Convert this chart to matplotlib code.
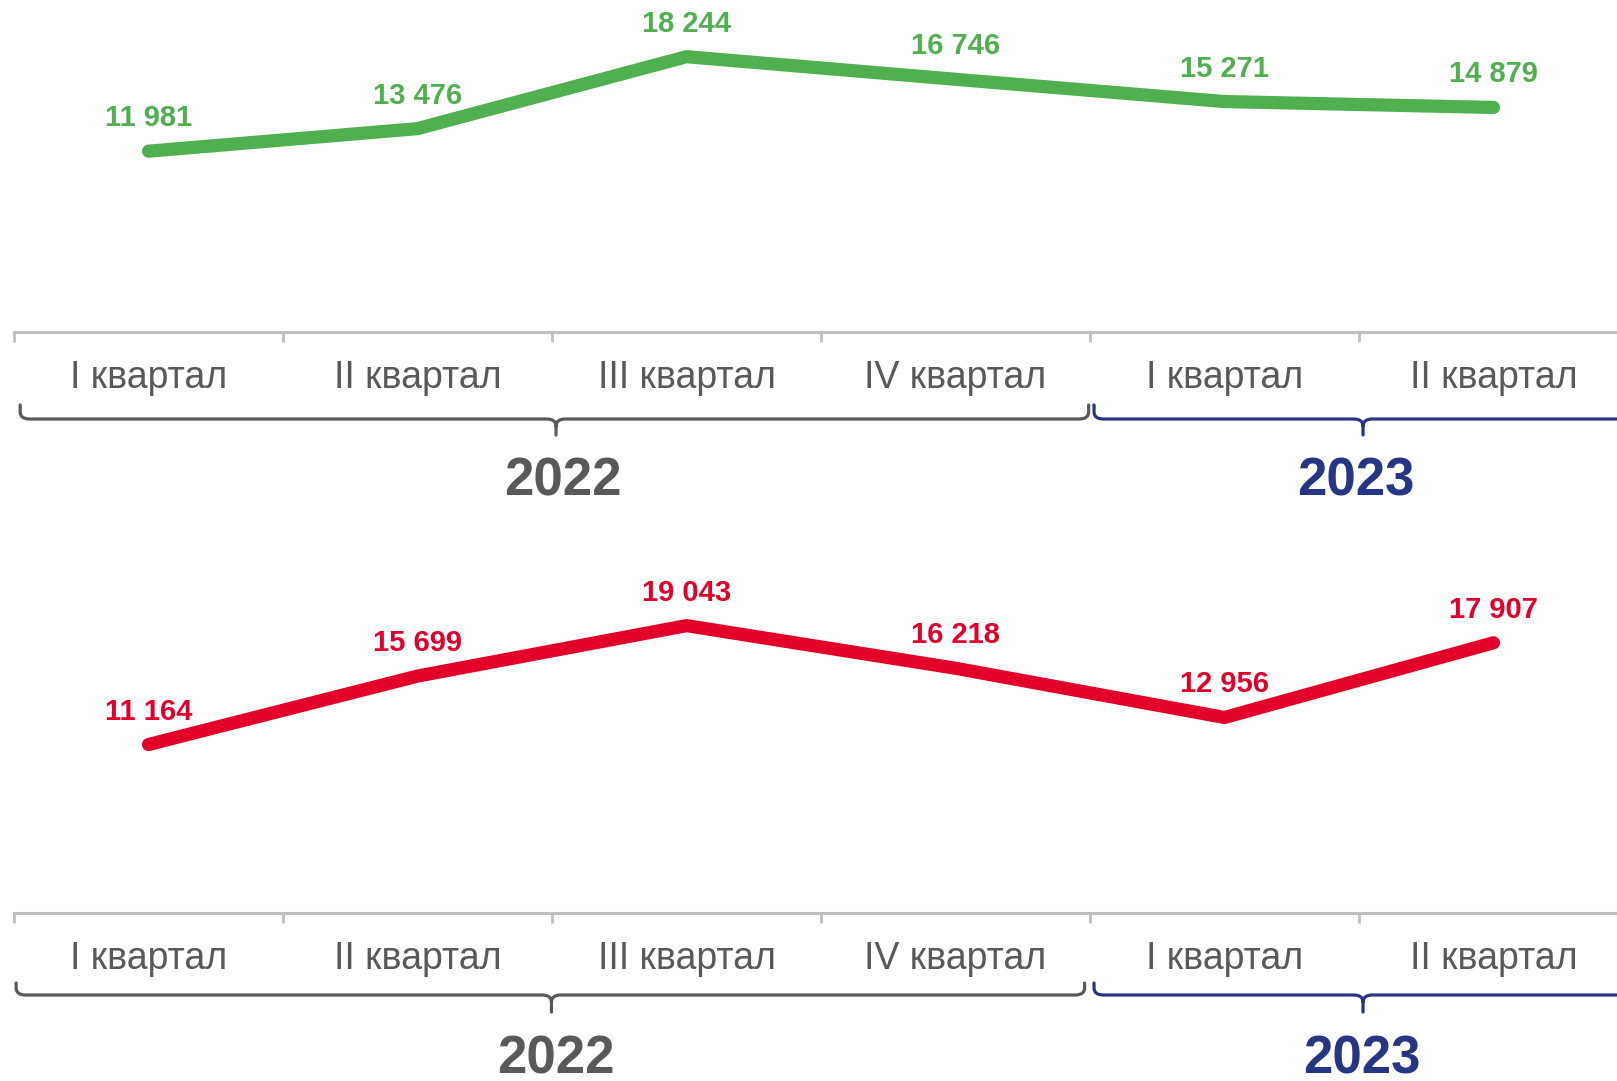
import numpy as np
import matplotlib
matplotlib.use('Agg')
import matplotlib.pyplot as plt
from matplotlib.path import Path
from matplotlib.patches import PathPatch
from matplotlib.transforms import blended_transform_factory

plt.rcParams['font.family'] = ['Liberation Sans', 'DejaVu Sans']

quarters = ['I квартал', 'II квартал', 'III квартал', 'IV квартал', 'I квартал', 'II квартал']
years = ['2022', '2023']
green_values = [11981, 13476, 18244, 16746, 15271, 14879]
red_values = [11164, 15699, 19043, 16218, 12956, 17907]

GREEN = '#50AF4F'
RED = '#E2002B'
GRAY_TEXT = '#595959'
NAVY = '#283583'
AXIS_GRAY = '#BFBFBF'

W, H = 1617, 1081
AX_H = 332  # axes height in pixels

fig = plt.figure(figsize=(W / 100, H / 100), dpi=100)


def px(offset):
    # pixels below the category axis -> axes fraction
    return -offset / AX_H


def brace(ax, x0, x1, xm, color, ytop, yline, ytip, r=0.035):
    trans = blended_transform_factory(ax.transData, ax.transAxes)
    verts = [
        (x0, px(ytop)), (x0, px(yline - 7)), (x0, px(yline)), (x0 + r, px(yline)),
        (xm - r, px(yline)), (xm, px(yline)), (xm, px(yline + 7)), (xm, px(ytip)),
        (x1, px(ytop)), (x1, px(yline - 7)), (x1, px(yline)), (x1 - r, px(yline)),
        (xm + r, px(yline)), (xm, px(yline)), (xm, px(yline + 7)),
    ]
    codes = [
        Path.MOVETO, Path.LINETO, Path.CURVE3, Path.CURVE3,
        Path.LINETO, Path.CURVE3, Path.CURVE3, Path.LINETO,
        Path.MOVETO, Path.LINETO, Path.CURVE3, Path.CURVE3,
        Path.LINETO, Path.CURVE3, Path.CURVE3,
    ]
    patch = PathPatch(Path(verts, codes), fill=False, edgecolor=color, lw=2.3,
                      transform=trans, clip_on=False, capstyle='round', joinstyle='round')
    ax.add_patch(patch)


def year_label(ax, x, y, text, color):
    trans = blended_transform_factory(ax.transData, ax.transAxes)
    ax.text(x, px(y), text, transform=trans, ha='center', va='baseline',
            fontsize=38, fontweight='bold', color=color, clip_on=False)


def panel(axis_y, values, color, br):
    ax = fig.add_axes([14 / W, 1 - axis_y / H, 269 * 6 / W, AX_H / H])
    x = np.arange(len(values))
    ax.plot(x, values, color=color, lw=9.5, solid_capstyle='round', solid_joinstyle='round',
            clip_on=False, zorder=3)
    for xi, v in zip(x, values):
        ax.annotate(f'{v:,}'.replace(',', ' '), (xi, v), xytext=(0, 18),
                    textcoords='offset points', ha='center', va='baseline',
                    fontsize=21, fontweight='bold', color=color)

    ax.set_xlim(-0.5, 5.5)
    ax.set_ylim(0, 22000)
    for s in ['left', 'right', 'top']:
        ax.spines[s].set_visible(False)
    ax.spines['bottom'].set_color(AXIS_GRAY)
    ax.spines['bottom'].set_linewidth(2.2)
    ax.set_yticks([])

    ax.set_xticks(x, quarters)
    ax.set_xticks(np.arange(-0.5, 6, 1), minor=True)
    ax.tick_params(axis='x', which='major', length=0, pad=56 * 0.72,
                   labelsize=27, labelcolor=GRAY_TEXT)
    ax.tick_params(axis='x', which='minor', length=7, width=2, color=AXIS_GRAY,
                   direction='out')
    for lab in ax.get_xticklabels():
        lab.set_va('baseline')

    ytop, yline, ytip, ytext = br['y']
    brace(ax, *br['b22'], GRAY_TEXT, ytop, yline, ytip)
    brace(ax, *br['b23'], NAVY, ytop, yline, ytip)
    year_label(ax, br['t22'], ytext, years[0], GRAY_TEXT)
    year_label(ax, br['t23'], ytext, years[1], NAVY)
    return ax


top_brace = {'y': (73, 87, 103, 163), 'b22': (-0.477, 3.495, 1.515), 'b23': (3.515, 5.7, 4.515),
             't22': 1.54, 't23': 4.49}
bottom_brace = {'y': (70, 82, 99, 160), 'b22': (-0.492, 3.48, 1.498), 'b23': (3.515, 5.7, 4.515),
                't22': 1.515, 't23': 4.51}

panel(332, green_values, GREEN, top_brace)
panel(913, red_values, RED, bottom_brace)

fig.savefig('out.png', dpi=100)
